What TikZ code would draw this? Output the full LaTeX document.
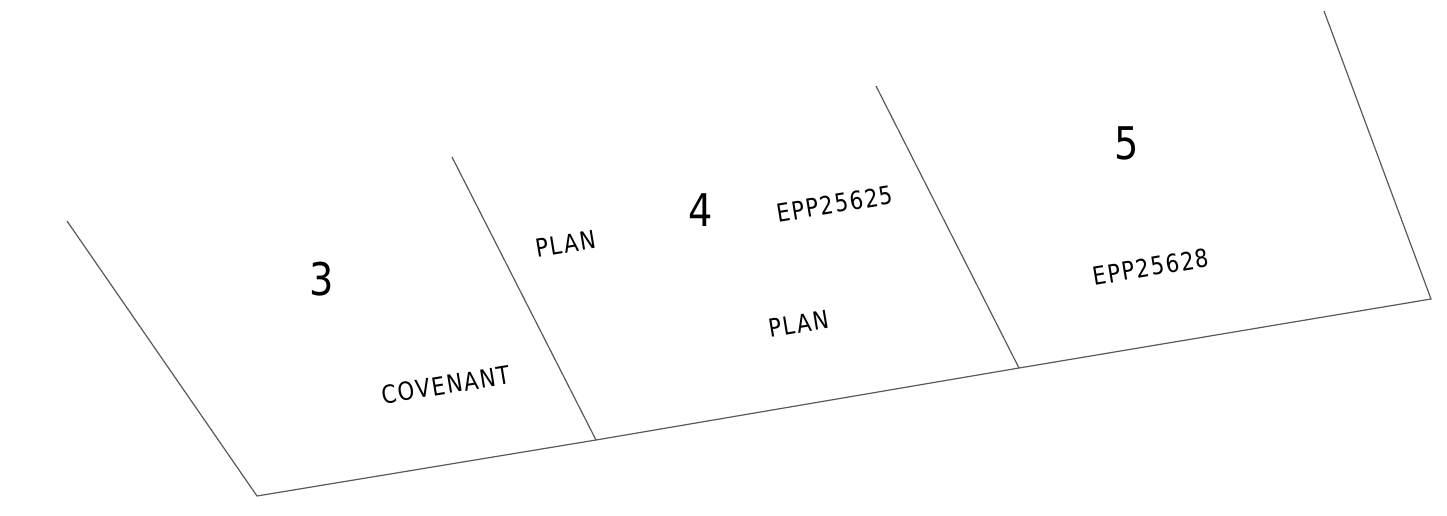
\documentclass[tikz,border=0pt]{standalone}
\usepackage{fontspec}
\setmainfont{DejaVu Sans}[FakeStretch=0.85,LetterSpace=6]
\begin{document}
\begin{tikzpicture}[x=1pt,y=-1pt,
  bnd/.style={draw=black!65, line width=1.2pt},
  lbl/.style={font=\fontsize{25}{27}\selectfont, rotate=9.4, inner sep=0pt},
  lotno/.style={font=\fontsize{45}{47}\selectfont, inner sep=0pt}]
\useasboundingbox (0,0) rectangle (1447,516);
\coordinate (a) at (67,221);
\coordinate (b) at (257,496);
\coordinate (c) at (596,440);
\coordinate (d) at (1019,368);
\coordinate (e) at (1431,299);
\coordinate (f) at (1324,11);
\coordinate (g) at (452,157);
\coordinate (h) at (876,86);
\draw[bnd] (a) -- (b) -- (c) -- (d) -- (e) -- (f);
\draw[bnd] (g) -- (c);
\draw[bnd] (h) -- (d);
\node[lotno] (n3) at (322,279) {3};
\node[lotno] (n4) at (701,210) {4};
\node[lotno] (n5) at (1127,143) {5};
\node[lbl] (cov) at (446,385) {COVENANT};
\node[lbl] (p1) at (566,244) {PLAN};
\node[lbl] (e1) at (835,204) {EPP25625};
\node[lbl] (p2) at (799,324) {PLAN};
\node[lbl] (e2) at (1151,267) {EPP25628};
\end{tikzpicture}
\end{document}
